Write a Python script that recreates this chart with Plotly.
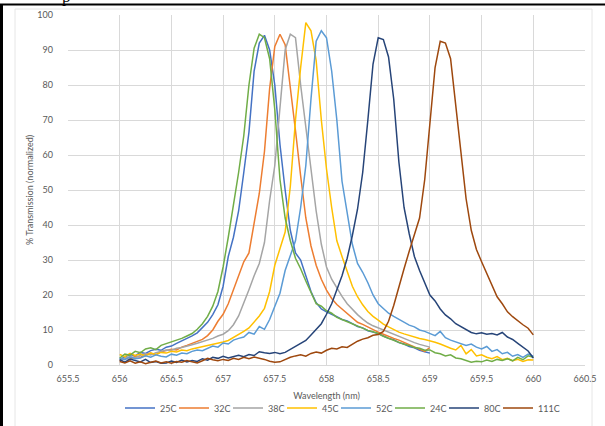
import plotly.graph_objects as go

WAVELENGTH = [656.00, 656.05, 656.10, 656.15, 656.20, 656.25, 656.30, 656.35, 656.40, 656.45,
              656.50, 656.55, 656.60, 656.65, 656.70, 656.75, 656.80, 656.85, 656.90, 656.95,
              657.00, 657.05, 657.10, 657.15, 657.20, 657.25, 657.30, 657.35, 657.40, 657.45,
              657.50, 657.55, 657.60, 657.65, 657.70, 657.75, 657.80, 657.85, 657.90, 657.95,
              658.00, 658.05, 658.10, 658.15, 658.20, 658.25, 658.30, 658.35, 658.40, 658.45,
              658.50, 658.55, 658.60, 658.65, 658.70, 658.75, 658.80, 658.85, 658.90, 658.95,
              659.00, 659.05, 659.10, 659.15, 659.20, 659.25, 659.30, 659.35, 659.40, 659.45,
              659.50, 659.55, 659.60, 659.65, 659.70, 659.75, 659.80, 659.85, 659.90, 659.95,
              660.00]

T25C = [1.6, 2.4, 3.0, 2.6, 3.6, 3.3, 4.1, 4.5, 4.2, 5.1,
        5.4, 6.2, 6.9, 7.4, 8.3, 9.2, 10.6, 12.2, 14.4, 17.2,
        22.5, 31.0, 36.5, 44.0, 55.0, 66.5, 84.0, 92.0, 94.2, 90.0,
        80.0, 63.0, 50.0, 38.5, 32.0, 30.0, 25.5, 21.0, 17.8, 16.0,
        15.2, 14.6, 13.8, 13.0, 12.6, 11.8, 11.0, 10.6, 9.8, 9.4,
        9.0, 8.3, 7.6, 7.2, 6.4, 6.0, 5.3, 4.9, 4.2, 3.8,
        3.4]

T32C = [1.2, 2.0, 1.6, 2.5, 2.2, 3.0, 3.4, 2.9, 3.8, 4.1,
        4.5, 4.3, 5.1, 5.6, 6.2, 6.8, 7.3, 8.4, 10.0, 12.5,
        14.5, 17.5, 21.5, 25.5, 29.5, 32.0, 40.0, 49.0, 61.0, 79.0,
        91.0, 94.5, 91.5, 80.0, 67.0, 54.0, 42.0, 34.0, 28.5, 24.5,
        21.4, 19.0, 17.3, 16.0, 14.8, 13.5, 12.2, 11.6, 10.8, 10.2,
        9.4, 8.8, 8.1, 7.6, 7.1, 6.5, 5.8, 5.2, 4.5, 3.9,
        5.0]

T38C = [1.5, 1.9, 2.4, 2.1, 2.8, 3.2, 2.9, 3.5, 3.9, 4.3,
        4.2, 4.8, 5.0, 5.5, 5.8, 6.2, 6.6, 7.2, 7.6, 8.3,
        8.8, 9.8, 11.5, 14.0, 17.5, 21.5, 25.5, 29.0, 35.0, 47.0,
        57.0, 73.0, 90.0, 94.5, 93.5, 80.0, 67.5, 55.0, 44.0, 34.5,
        28.0, 24.5, 22.0, 19.6, 17.5, 15.9, 14.4, 13.1, 12.0, 11.2,
        10.6, 9.9, 9.2, 8.7, 8.0, 7.5, 6.9, 6.4, 5.9, 5.4,
        5.1]

T45C = [3.0, 2.4, 3.3, 2.7, 3.1, 2.6, 3.4, 3.0, 3.6, 3.4,
        3.9, 3.7, 4.3, 4.1, 4.6, 4.9, 5.2, 5.5, 5.9, 6.2,
        6.6, 7.0, 7.8, 8.6, 9.6, 10.6, 12.2, 14.0, 16.2, 21.0,
        28.5, 33.0, 38.0, 51.0, 70.0, 85.0, 97.8, 95.5, 87.0, 70.0,
        56.0, 45.0, 35.5, 31.0, 26.5, 22.5, 19.5, 17.2, 15.3, 13.9,
        12.8, 11.7, 10.9, 10.1, 9.4, 8.9, 8.4, 8.0, 7.6, 7.3,
        7.0, 6.5, 6.0, 5.3, 4.8, 4.3, 5.6, 3.2, 4.4, 2.6,
        2.9, 2.2, 1.8, 2.4, 1.5, 1.9, 1.2, 1.6, 1.0, 1.5,
        1.4]

T52C = [2.0, 1.5, 2.3, 1.8, 2.0, 2.6, 2.2, 2.9, 2.5, 2.3,
        3.1, 2.8, 3.4, 3.2, 3.9, 4.3, 4.1, 4.8, 5.4, 5.1,
        6.3, 6.0, 7.1, 7.6, 8.0, 9.3, 8.8, 11.0, 10.2, 13.0,
        16.5, 20.5, 27.0, 31.0, 35.5, 45.0, 57.0, 76.0, 92.5, 95.5,
        93.5, 84.0, 70.0, 52.5, 43.5, 34.5, 29.0, 26.5, 23.5, 20.0,
        17.5, 16.2, 14.8, 13.9, 13.0, 12.3, 11.4, 10.9, 10.0, 9.6,
        9.1, 8.4, 9.6, 7.8, 7.1, 6.6, 6.3, 5.6, 6.0, 5.1,
        4.6, 5.3, 3.9, 4.4, 3.2, 3.6, 2.5, 3.0, 2.2, 3.1,
        2.5]

T24C = [2.0, 3.1, 2.8, 3.9, 3.5, 4.6, 4.9, 4.4, 5.6, 6.1,
        6.5, 6.9, 7.6, 8.3, 9.0, 10.2, 11.8, 13.9, 16.8, 21.0,
        28.0, 36.5, 45.5, 55.0, 65.5, 80.0, 90.5, 94.5, 93.5, 87.5,
        73.0, 53.0, 42.0, 35.5, 30.5, 27.5, 24.0, 20.5, 17.5, 16.8,
        15.5, 14.8, 13.6, 13.0, 12.4, 11.7, 11.0, 10.4, 9.9, 9.5,
        9.0, 8.2, 7.6, 7.0, 6.4, 5.9, 5.6, 5.0, 4.8, 4.2,
        4.3, 3.5, 3.2, 2.6, 2.9, 2.0, 1.8, 1.2, 0.8, 1.1,
        0.9, 1.4, 1.0, 1.6, 1.3, 1.8, 1.2, 2.2, 1.5, 2.6,
        2.2]

T80C = [1.5, 0.8, 1.7, 1.2, 0.9, 1.6, 0.7, 1.0, 0.5, 0.6,
        1.1, 0.7, 1.4, 0.9, 1.3, 1.0, 1.8, 1.4, 2.2, 1.9,
        2.5, 2.0, 2.3, 2.8, 2.4, 3.0, 2.7, 3.8, 3.5, 3.3,
        3.6, 3.2, 3.6, 4.4, 5.3, 6.2, 7.0, 8.6, 10.2, 11.8,
        14.5, 17.5, 21.5, 25.5, 30.5, 37.0, 44.5, 55.0, 70.0, 86.0,
        93.5, 93.0, 88.0, 76.0, 58.0, 45.0, 37.5, 31.0, 27.0, 23.5,
        20.0, 18.3, 16.0, 14.3, 13.2, 11.8, 11.0, 10.0, 9.3, 8.9,
        9.2, 8.8, 9.0, 8.6, 9.3, 8.0, 7.3, 6.2, 5.2, 4.0,
        2.0]

T111C = [1.0, 0.6, 1.2, 0.5, 0.9, 0.4, 0.8, 1.1, 0.6, 0.9,
         0.5, 1.0, 0.8, 1.3, 0.9, 0.6, 1.2, 1.9, 1.5, 1.2,
         1.6, 1.3, 1.9, 1.6, 2.2, 1.8, 2.3, 2.0, 1.6, 1.1,
         0.8, 0.9, 1.6, 2.2, 2.6, 2.9, 2.5, 3.3, 3.7, 3.4,
         4.2, 4.8, 4.6, 5.2, 5.0, 5.9, 6.8, 7.4, 7.8, 8.5,
         8.7, 9.6, 12.5, 17.0, 22.5, 27.5, 32.5, 37.5, 42.0, 53.0,
         70.0, 85.0, 92.5, 92.0, 87.5, 74.5, 62.0, 47.5, 38.5, 33.0,
         29.5, 26.0, 22.5, 19.5, 17.5, 15.2, 13.8, 12.6, 11.5, 10.5,
         8.6]

SERIES_NAMES = ["25C", "32C", "38C", "45C", "52C", "24C", "80C", "111C"]
SERIES_VALUES = [T25C, T32C, T38C, T45C, T52C, T24C, T80C, T111C]
SERIES_COLORS = ["#4472C4", "#ED7D31", "#A5A5A5", "#FFC000",
                 "#5B9BD5", "#70AD47", "#264478", "#9E480E"]

X_TICKS = [655.5, 656, 656.5, 657, 657.5, 658, 658.5, 659, 659.5, 660, 660.5]
X_TICK_TEXT = ["655.5", "656", "656.5", "657", "657.5", "658", "658.5", "659", "659.5", "660", "660.5"]
Y_TICKS = [0, 10, 20, 30, 40, 50, 60, 70, 80, 90, 100]

FONT = "Lato, 'Open Sans', sans-serif"
GREY_TXT = "#595959"
GRID = "#d9d9d9"

fig = go.Figure()
for name, vals, col in zip(SERIES_NAMES, SERIES_VALUES, SERIES_COLORS):
    fig.add_trace(go.Scatter(
        x=WAVELENGTH[:len(vals)], y=vals, name=name, mode="lines",
        line=dict(color=col, width=1.5),
    ))
# empty spacer entry so the last legend label is not clipped
fig.add_trace(go.Scatter(x=[None], y=[None], name=" ", mode="lines",
                         line=dict(color="rgba(0,0,0,0)", width=0), hoverinfo="skip"))

# plot area: x 68..585 px, y 15..365 px
L, R, T, B = 68, 20, 15, 61
W, H = 605, 426
pw, ph = W - L - R, H - T - B


def px(xp):
    return (xp - L) / pw


def py(yp):
    return (H - B - yp) / ph


fig.update_layout(
    width=W, height=H,
    margin=dict(l=L, r=R, t=T, b=B, autoexpand=False),
    paper_bgcolor="white", plot_bgcolor="white",
    font=dict(family=FONT, size=9, color=GREY_TXT),
    showlegend=True,
    legend=dict(orientation="h", x=px(120), y=py(408), xanchor="left", yanchor="middle",
                font=dict(size=9, color=GREY_TXT), itemwidth=30, entrywidth=9,
                bgcolor="rgba(0,0,0,0)"),
    xaxis=dict(range=[655.5, 660.5], tickmode="array", tickvals=X_TICKS, ticktext=X_TICK_TEXT,
               showgrid=True, gridcolor=GRID, gridwidth=1, zeroline=False,
               showline=True, linecolor=GRID, linewidth=1, ticks="",
               ticklabelstandoff=5,
               title=dict(text="Wavelength (nm)", standoff=9, font=dict(size=9, color=GREY_TXT))),
    yaxis=dict(range=[0, 100], tickmode="array", tickvals=Y_TICKS,
               showgrid=True, gridcolor=GRID, gridwidth=1, zeroline=False,
               showline=False, ticks="", ticklabelstandoff=14,
               title=dict(text="% Transmission (normalized)", standoff=2,
                          font=dict(size=9, color=GREY_TXT))),
    shapes=[
        # chart area border
        dict(type="rect", xref="paper", yref="paper", x0=px(15), x1=px(592), y0=py(440), y1=py(9),
             line=dict(color="#e6e6e6", width=1), layer="below"),
        # document frame
        dict(type="line", xref="paper", yref="paper", x0=px(0), x1=px(606), y0=py(4.5), y1=py(4.5),
             line=dict(color="black", width=2)),
        dict(type="line", xref="paper", yref="paper", x0=px(1.5), x1=px(1.5), y0=py(4), y1=py(430),
             line=dict(color="black", width=3)),
    ],
    annotations=[
        dict(text="p", xref="paper", yref="paper", x=px(66), y=py(8), xanchor="center",
             yanchor="bottom", showarrow=False,
             font=dict(family="Liberation Serif", size=17, color="black")),
    ],
)

fig.write_html("out.html")
